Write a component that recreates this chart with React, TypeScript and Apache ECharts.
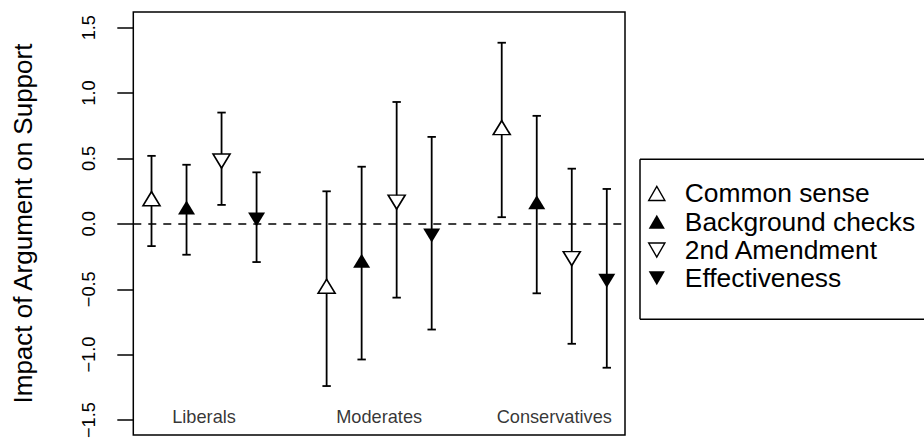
import React, { useEffect, useRef } from "react";
import * as echarts from "echarts";

const groups = ["Liberals", "Moderates", "Conservatives"];
const argumentNames = ["Common sense", "Background checks", "2nd Amendment", "Effectiveness"];

const commonSenseEst = [0.175, -0.495, 0.718];
const commonSenseLow = [-0.17, -1.24, 0.051];
const commonSenseHigh = [0.52, 0.249, 1.385];

const backgroundEst = [0.108, -0.3, 0.147];
const backgroundLow = [-0.236, -1.037, -0.531];
const backgroundHigh = [0.452, 0.437, 0.826];

const amendmentEst = [0.498, 0.184, -0.248];
const amendmentLow = [0.145, -0.564, -0.917];
const amendmentHigh = [0.851, 0.932, 0.422];

const effectivenessEst = [0.051, -0.071, -0.417];
const effectivenessLow = [-0.292, -0.808, -1.1];
const effectivenessHigh = [0.394, 0.665, 0.267];

const yTicks = [-1.5, -1.0, -0.5, 0, 0.5, 1.0, 1.5];

const estimates = [commonSenseEst, backgroundEst, amendmentEst, effectivenessEst];
const lows = [commonSenseLow, backgroundLow, amendmentLow, effectivenessLow];
const highs = [commonSenseHigh, backgroundHigh, amendmentHigh, effectivenessHigh];

const UP = "path://M10,0L20,17.32L0,17.32Z";
const DOWN = "path://M0,0L20,0L10,17.32Z";
const symbols = [UP, UP, DOWN, DOWN];
const filled = [false, true, false, true];
const FONT = "Liberation Sans, Arial, Helvetica, sans-serif";

const xPos = (g: number, a: number) => 1 + 5 * g + a;

export default function App() {
  const ref = useRef<HTMLDivElement>(null);
  useEffect(() => {
    if (!ref.current) return;
    const chart = echarts.init(ref.current, null, { renderer: "svg" });

    const barData: number[][] = [];
    argumentNames.forEach((_, a) => {
      groups.forEach((_, g) => {
        barData.push([xPos(g, a), lows[a][g], highs[a][g]]);
      });
    });

    const H = 14;
    const pointSeries = argumentNames.map((name, a) => ({
      type: "scatter",
      name,
      z: 5,
      symbol: symbols[a],
      symbolSize: [17, H],
      symbolKeepAspect: false,
      symbolOffset: [0, symbols[a] === UP ? -H / 6 : H / 6],
      itemStyle: {
        color: filled[a] ? "#000" : "#fff",
        borderColor: "#000",
        borderWidth: filled[a] ? 0 : 1.6,
        opacity: 1,
      },
      data: groups.map((_, g) => [xPos(g, a), estimates[a][g]]),
    }));

    const frame = { stroke: "#000", lineWidth: 1.5 };
    const option: any = {
      animation: false,
      textStyle: { fontFamily: FONT },
      grid: {
        left: 133.3,
        top: 12,
        right: 299,
        bottom: 4.3,
        show: true,
        borderColor: "#000",
        borderWidth: 1.5,
        backgroundColor: "transparent",
      },
      graphic: [
        { type: "line", shape: { x1: 640, y1: 159.3, x2: 940, y2: 159.3 }, style: frame },
        { type: "line", shape: { x1: 640, y1: 319.3, x2: 940, y2: 319.3 }, style: frame },
        { type: "line", shape: { x1: 640, y1: 159.3, x2: 640, y2: 319.3 }, style: frame },
      ],
      xAxis: {
        type: "value",
        min: 0.48,
        max: 14.52,
        show: false,
      },
      yAxis: {
        type: "value",
        min: -1.615,
        max: 1.62,
        name: "Impact of Argument on Support",
        nameLocation: "middle",
        nameRotate: 90,
        nameGap: 97,
        nameTextStyle: { fontSize: 26, color: "#000", fontFamily: FONT },
        axisLine: { show: false },
        splitLine: { show: false },
        axisTick: {
          show: true,
          inside: false,
          length: 16,
          lineStyle: { color: "#000", width: 1.5 },
          customValues: yTicks,
        },
        axisLabel: {
          show: true,
          rotate: 90,
          margin: 35,
          fontSize: 18.2,
          color: "#000",
          fontFamily: FONT,
          customValues: yTicks,
          formatter: (v: number) => v.toFixed(1).replace("-", "\u2212"),
        },
      },
      legend: {
        show: true,
        orient: "vertical",
        align: "left",
        left: 648,
        top: 179.3,
        padding: 0,
        itemWidth: 46,
        itemHeight: 14,
        itemGap: 0,
        symbolKeepAspect: true,
        selectedMode: false,
        z: 10,
        textStyle: { fontSize: 26.4, lineHeight: 28.3, color: "#000", fontFamily: FONT },
        data: argumentNames.map((name, a) => ({
          name,
          icon: symbols[a],
          itemStyle: {
            color: filled[a] ? "#000" : "#fff",
            borderColor: "#000",
            borderWidth: filled[a] ? 0 : 1.4,
          },
        })),
      },
      series: [
        {
          type: "custom",
          name: "ci",
          z: 3,
          renderItem: (params: any, api: any) => {
            const x = api.value(0);
            const lo = api.coord([x, api.value(1)]);
            const hi = api.coord([x, api.value(2)]);
            const cap = 4.2;
            const style = { stroke: "#000", lineWidth: 1.8 };
            return {
              type: "group",
              children: [
                { type: "line", shape: { x1: lo[0], y1: lo[1], x2: hi[0], y2: hi[1] }, style },
                { type: "line", shape: { x1: lo[0] - cap, y1: lo[1], x2: lo[0] + cap, y2: lo[1] }, style },
                { type: "line", shape: { x1: hi[0] - cap, y1: hi[1], x2: hi[0] + cap, y2: hi[1] }, style },
              ],
            };
          },
          data: barData,
          markLine: {
            silent: true,
            symbol: "none",
            label: { show: false },
            lineStyle: { color: "#000", width: 1.5, type: [8, 7] },
            data: [{ yAxis: 0 }],
          },
        },
        ...pointSeries,
        {
          type: "scatter",
          name: "groupLabels",
          symbolSize: 0,
          z: 6,
          label: {
            show: true,
            position: "inside",
            fontSize: 18.2,
            color: "#000",
            fontFamily: FONT,
            formatter: (p: any) => groups[p.dataIndex],
          },
          data: groups.map((_, g) => [2.5 + 5 * g, -1.475]),
        },
      ],
    };
    chart.setOption(option);
    return () => chart.dispose();
  }, []);

  return (
    <div
      ref={ref}
      style={{ position: "absolute", left: 0, top: 0, width: 924, height: 441, background: "#fff" }}
    />
  );
}
